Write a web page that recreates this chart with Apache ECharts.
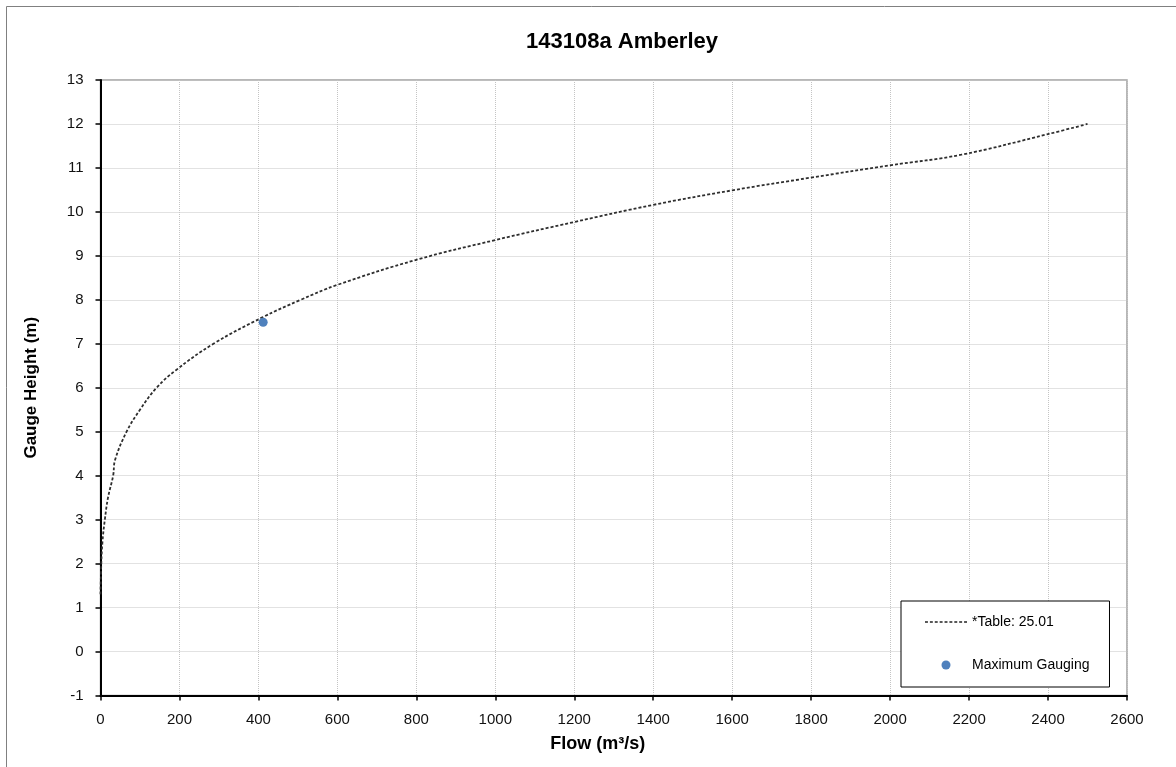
<!DOCTYPE html>
<html>
<head>
<meta charset="utf-8">
<script src="https://cdn.jsdelivr.net/npm/echarts@6/dist/echarts.min.js"></script>
<style>
html,body{margin:0;padding:0;background:#fff;}
#chart{width:1176px;height:767px;}
</style>
</head>
<body>
<div id="chart"></div>
<script>
// Rating curve (*Table: 25.01)
var ratingFlow = [0, 2, 5, 11, 19, 32, 37, 66, 100, 142, 191, 286, 410, 507, 600, 800, 1000, 1200, 1400, 1600, 1800, 2000, 2180, 2400, 2500];
var ratingHeight = [1.3, 2.0, 2.5, 3.0, 3.5, 4.0, 4.36, 5.0, 5.5, 6.0, 6.4, 7.0, 7.6, 8.0, 8.34, 8.91, 9.36, 9.77, 10.16, 10.49, 10.78, 11.06, 11.3, 11.77, 12.0];
// Maximum gauging
var gaugingFlow = [412];
var gaugingHeight = [7.49];

var titleText = '143108a Amberley';
var xName = 'Flow (m\u00B3/s)';
var yName = 'Gauge Height (m)';
var lineName = '*Table: 25.01';
var pointName = 'Maximum Gauging';

var FONT = '"Liberation Sans", Arial, sans-serif';

var lineData = ratingFlow.map(function (f, i) { return [f, ratingHeight[i]]; });
var pointData = gaugingFlow.map(function (f, i) { return [f, gaugingHeight[i]]; });

// dashed-line legend glyph (9 short dashes)
var dashPath = 'path://';
for (var k = 0; k < 9; k++) {
  var x0 = k * 5;
  dashPath += 'M' + x0 + ',0h3v1.4h-3z';
}

var chart = echarts.init(document.getElementById('chart'), null, {renderer: 'canvas'});
chart.setOption({
  backgroundColor: '#fff',
  animation: false,
  textStyle: {fontFamily: FONT},
  graphic: [{
    type: 'rect',
    shape: {x: 6.5, y: 6.5, width: 1300, height: 900},
    style: {fill: null, stroke: '#808080', lineWidth: 1},
    silent: true,
    z: -10
  }],
  title: {
    text: titleText,
    left: 622,
    textAlign: 'center',
    top: 31,
    padding: 0,
    textStyle: {fontFamily: FONT, fontSize: 22, fontWeight: 'bold', color: '#000'}
  },
  grid: {
    left: 100.5, right: 49, top: 80, bottom: 71.5,
    show: true, borderColor: '#a0a0a0', borderWidth: 1.5, backgroundColor: '#fff'
  },
  legend: {
    orient: 'vertical',
    left: 901,
    top: 601,
    padding: [14, 20, 15, 24],
    itemGap: 29,
    itemWidth: 42,
    itemHeight: 9,
    backgroundColor: '#fff',
    borderColor: '#000',
    borderWidth: 1,
    textStyle: {fontFamily: FONT, fontSize: 14, color: '#000'},
    data: [
      {name: lineName, icon: dashPath, itemStyle: {color: '#222'}},
      {name: pointName, icon: 'circle'}
    ]
  },
  xAxis: {
    type: 'value',
    min: 0, max: 2600, interval: 200,
    name: xName,
    nameLocation: 'middle',
    nameGap: 40,
    nameTextStyle: {fontFamily: FONT, fontSize: 18, fontWeight: 'bold', color: '#000', padding: [0, 32, 0, 0]},
    axisLine: {show: true, onZero: false, lineStyle: {color: '#000', width: 2}},
    axisTick: {show: true, inside: false, length: 5, lineStyle: {color: '#000', width: 1.5}},
    axisLabel: {fontFamily: FONT, fontSize: 15, color: '#111', margin: 17, formatter: function (v) { return String(v); }},
    splitLine: {show: true, lineStyle: {color: '#c4c4c4', type: 'dotted', width: 1}}
  },
  yAxis: {
    type: 'value',
    min: -1, max: 13, interval: 1,
    name: yName,
    nameLocation: 'middle',
    nameGap: 61,
    nameTextStyle: {fontFamily: FONT, fontSize: 17, fontWeight: 'bold', color: '#000'},
    axisLine: {show: true, onZero: false, lineStyle: {color: '#000', width: 2}},
    axisTick: {show: true, inside: false, length: 5, lineStyle: {color: '#000', width: 1.5}},
    axisLabel: {fontFamily: FONT, fontSize: 15, color: '#111', margin: 17, formatter: function (v) { return String(v); }},
    splitLine: {show: true, lineStyle: {color: '#c4c4c4', type: 'dotted', width: 1}}
  },
  series: [{
    name: lineName,
    type: 'line',
    data: lineData,
    smooth: 0.4,
    showSymbol: false,
    symbol: 'none',
    lineStyle: {color: '#2e2e2e', width: 1.8, type: [3, 2]},
    itemStyle: {color: '#2e2e2e'},
    z: 3
  }, {
    name: pointName,
    type: 'scatter',
    data: pointData,
    symbol: 'circle',
    symbolSize: 9,
    itemStyle: {color: '#4F81BD', opacity: 1},
    z: 4
  }]
});
</script>
</body>
</html>
